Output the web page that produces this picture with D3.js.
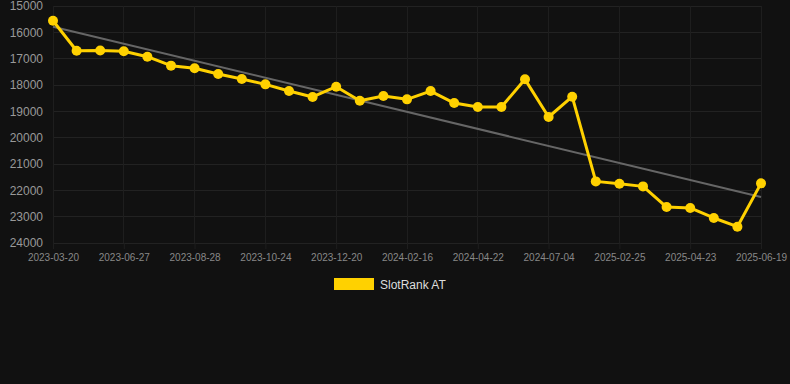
<!DOCTYPE html>
<html>
<head>
<meta charset="utf-8">
<script src="https://cdn.jsdelivr.net/npm/d3@7/dist/d3.min.js"></script>
<style>
  html, body { margin: 0; padding: 0; background: #111111; }
  svg { display: block; }
  text { font-family: "Liberation Sans", Arial, sans-serif; }
</style>
</head>
<body>
<svg id="chart" width="790" height="384"></svg>
<script>
// Rank values (lower on chart = larger number), one per observation
const values = [15560, 16700, 16690, 16720, 16925, 17265, 17365, 17580, 17770, 17975,
                18230, 18455, 18065, 18595, 18420, 18545, 18230, 18685, 18835, 18835,
                17785, 19215, 18445, 21660, 21750, 21850, 22635, 22670, 23050, 23380, 21735];
// Tick labels shown on x axis (every third observation)
const tickLabels = ["2023-03-20", "2023-06-27", "2023-08-28", "2023-10-24", "2023-12-20",
                    "2024-02-16", "2024-04-22", "2024-07-04", "2025-02-25", "2025-04-23", "2025-06-19"];
const tickEvery = 3;
const yTicks = [15000, 16000, 17000, 18000, 19000, 20000, 21000, 22000, 23000, 24000];
const seriesName = "SlotRank AT";

(function () {
const svg = d3.select("#chart");
const pLeft = 53, pRight = 761, pTop = 6, pBottom = 243;

const x = d3.scaleLinear().domain([0, values.length - 1]).range([pLeft, pRight]);
const y = d3.scaleLinear().domain([15000, 24000]).range([pTop, pBottom]);

// horizontal grid
svg.append("g").selectAll("line").data(yTicks).join("line")
  .attr("x1", pLeft).attr("x2", pRight)
  .attr("y1", d => y(d)).attr("y2", d => y(d))
  .attr("stroke", "#222").attr("stroke-width", 1).attr("shape-rendering", "crispEdges");

// vertical grid
const tickIdx = tickLabels.map((_, i) => i * tickEvery);
svg.append("g").selectAll("line").data(tickIdx).join("line")
  .attr("x1", d => x(d)).attr("x2", d => x(d))
  .attr("y1", pTop).attr("y2", pBottom)
  .attr("stroke", "#1e1e1e").attr("stroke-width", 1).attr("shape-rendering", "crispEdges");

// y axis
const yAxis = d3.axisLeft(y).tickValues(yTicks).tickSize(0).tickPadding(10).tickFormat(d3.format("d"));
const gy = svg.append("g").attr("transform", `translate(${pLeft},0)`).call(yAxis);
gy.select(".domain").remove();
gy.selectAll("text").attr("fill", "#999").style("font-size", "12px");

// x axis
const xAxis = d3.axisBottom(x).tickValues(tickIdx).tickSize(6).tickPadding(5)
  .tickFormat((d, i) => tickLabels[i]);
const gx = svg.append("g").attr("transform", `translate(0,${pBottom})`).call(xAxis);
gx.select(".domain").attr("stroke", "#222");
gx.selectAll(".tick line").attr("stroke", "#1e1e1e");
gx.selectAll("text").attr("fill", "#888").style("font-size", "10px");

// trend line (least squares)
const n = values.length;
const mx = d3.mean(d3.range(n)), my = d3.mean(values);
let sxy = 0, sxx = 0;
values.forEach((v, i) => { sxy += (i - mx) * (v - my); sxx += (i - mx) * (i - mx); });
const slope = sxy / sxx, intercept = my - slope * mx;
svg.append("line")
  .attr("x1", x(0)).attr("y1", y(intercept))
  .attr("x2", x(n - 1)).attr("y2", y(intercept + slope * (n - 1)))
  .attr("stroke", "#666").attr("stroke-width", 2);

// series line
const line = d3.line().x((d, i) => x(i)).y(d => y(d));
svg.append("path").datum(values)
  .attr("d", line).attr("fill", "none")
  .attr("stroke", "#FFD100").attr("stroke-width", 3).attr("stroke-linejoin", "round");

svg.append("g").selectAll("circle").data(values).join("circle")
  .attr("cx", (d, i) => x(i)).attr("cy", d => y(d)).attr("r", 5)
  .attr("fill", "#FFD100");

// legend
const lg = svg.append("g");
lg.append("rect").attr("x", 334).attr("y", 278).attr("width", 40).attr("height", 12)
  .attr("fill", "#FFD100");
lg.append("text").attr("x", 380).attr("y", 288.5).attr("fill", "#ddd")
  .style("font-size", "12px").text(seriesName);
})();
</script>
</body>
</html>
